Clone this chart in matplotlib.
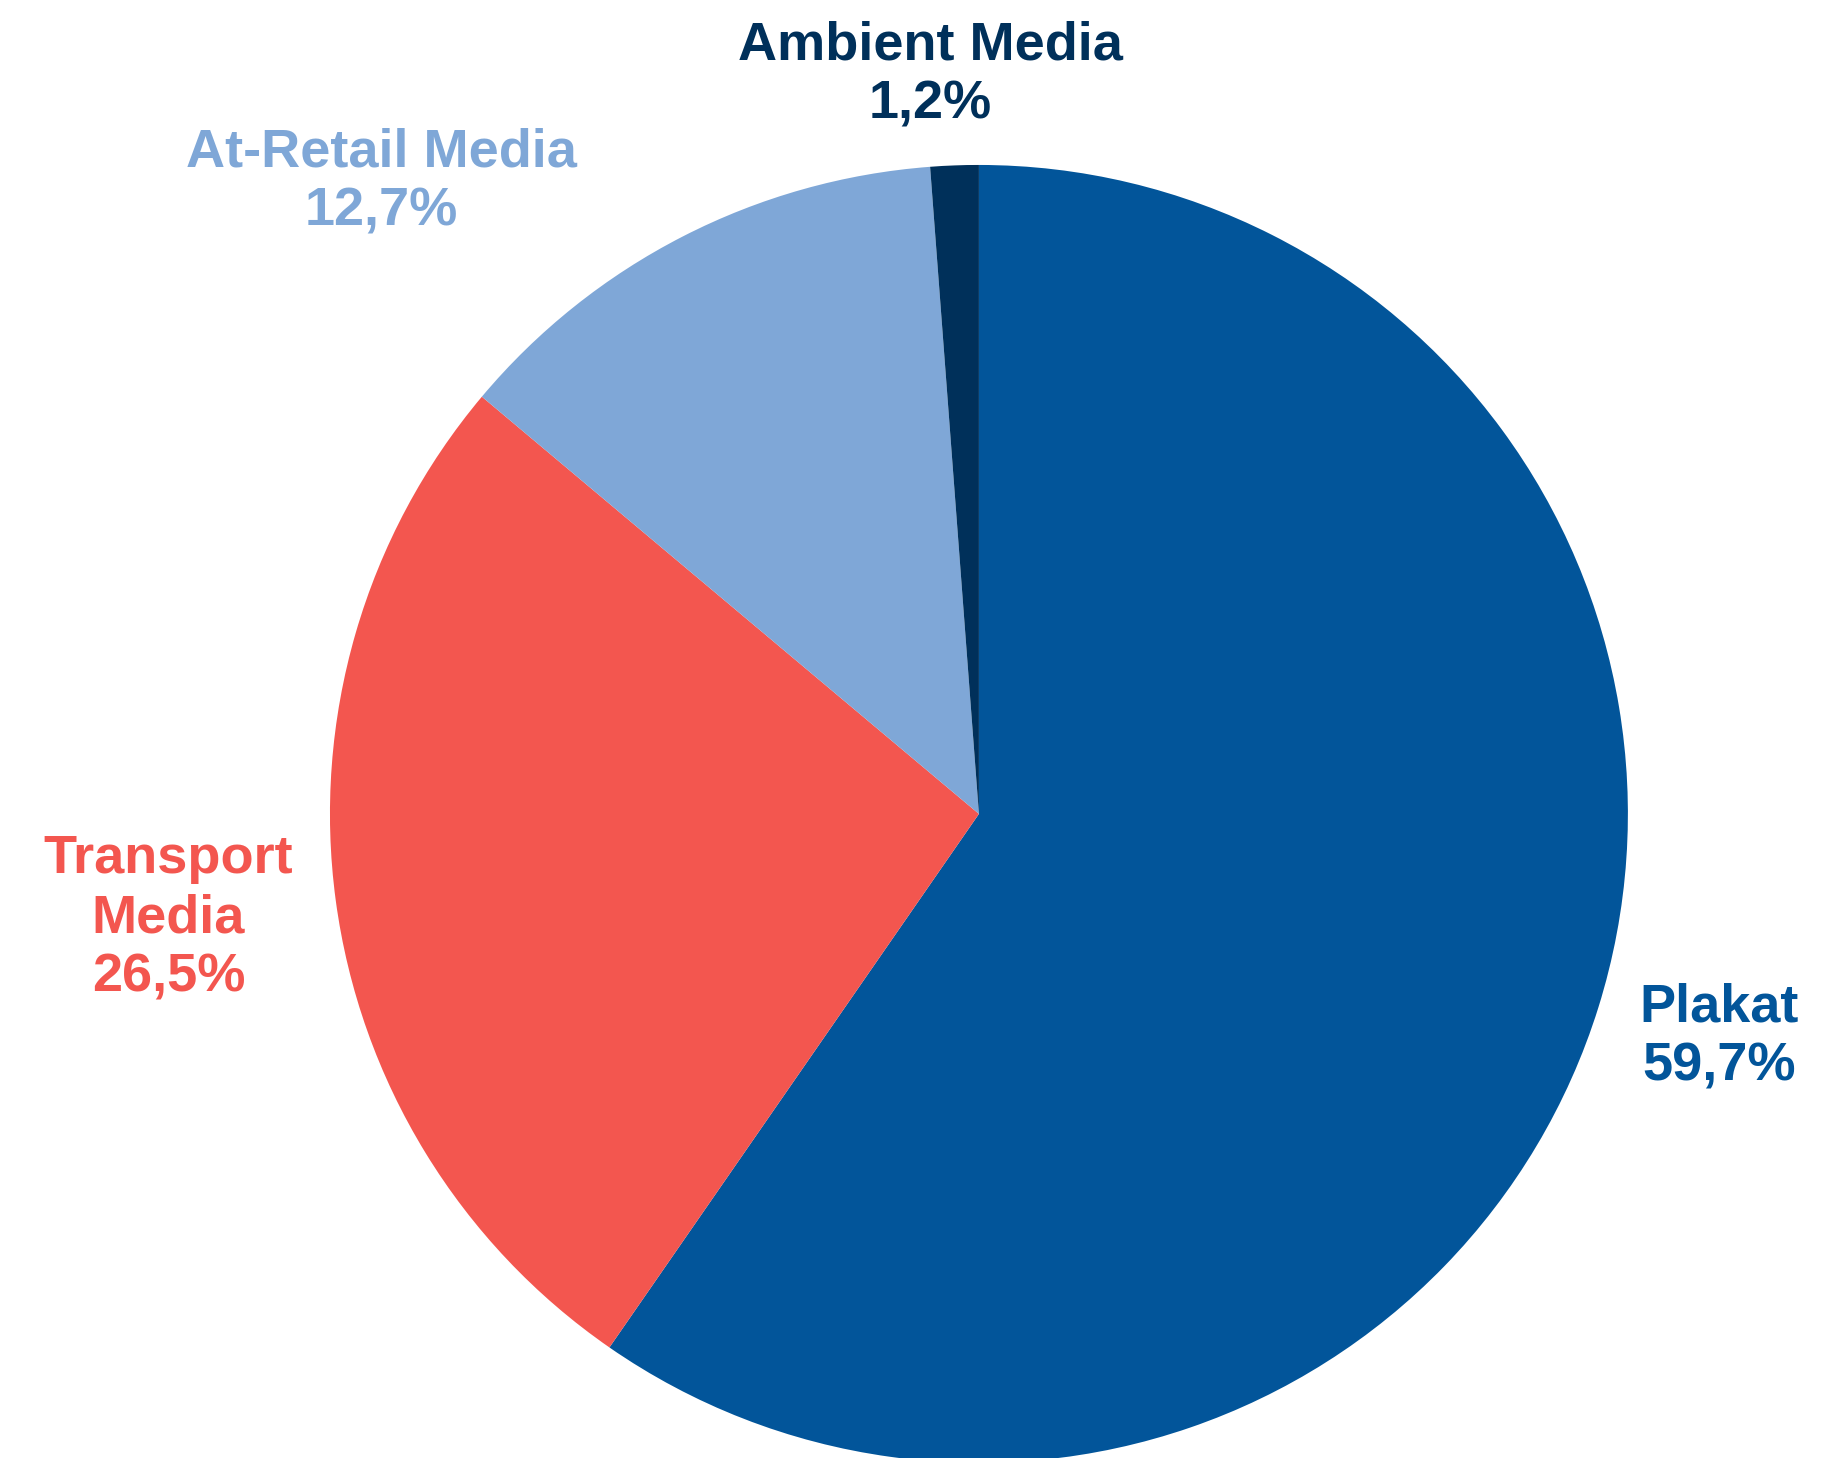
import matplotlib
matplotlib.use("Agg")
import matplotlib.pyplot as plt

# shares of out-of-home advertising
categories = ["Plakat", "Transport\nMedia", "At-Retail Media", "Ambient Media"]
shares = [59.7, 26.5, 12.7, 1.2]
colors = ["#02559A", "#F3564F", "#7FA7D7", "#00305A"]
# label anchor points, in pie radius units
label_x = [1.140, -1.249, -0.921, -0.075]
label_y = [-0.344, -0.161, 0.973, 1.138]

plt.rcParams['font.family'] = ['Liberation Sans', 'DejaVu Sans']

fig = plt.figure(figsize=(18.25, 14.58), dpi=100)
ax = fig.add_axes([0.1808, -0.0034, 0.7112, 0.8903])

ax.pie(shares, colors=colors, startangle=90, counterclock=False,
       radius=1.0, wedgeprops=dict(linewidth=0))
ax.set_xlim(-1, 1)
ax.set_ylim(-1, 1)
ax.axis('off')

for name, v, c, x, y in zip(categories, shares, colors, label_x, label_y):
    txt = name + "\n" + f"{v:.1f}".replace('.', ',') + "%"
    ax.text(x, y, txt, color=c, fontsize=39, fontweight='bold',
            ha='center', va='center', multialignment='center',
            linespacing=1.23)

fig.savefig("out.png", dpi=100)
